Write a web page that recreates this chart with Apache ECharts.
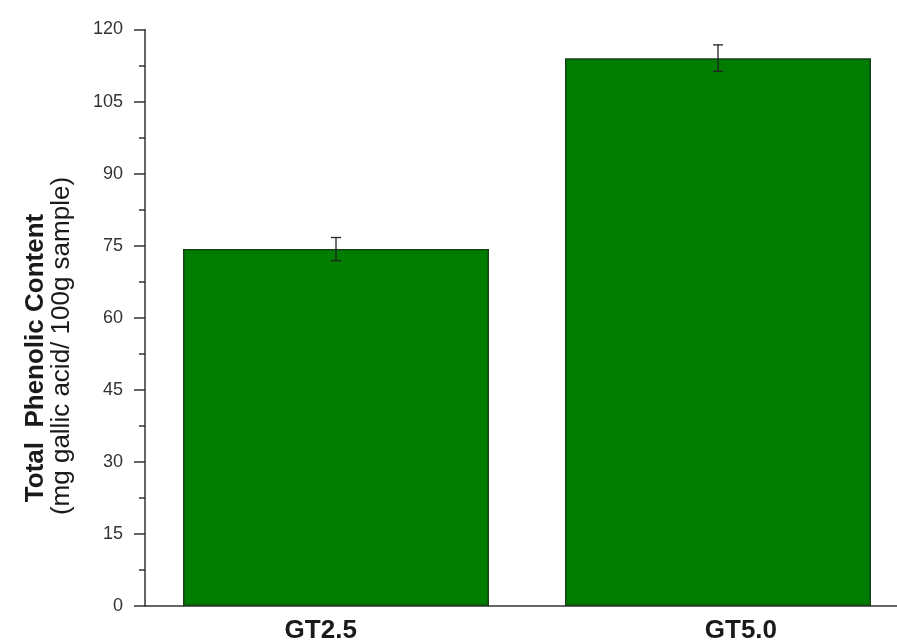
<!DOCTYPE html>
<html>
<head>
<meta charset="utf-8">
<script src="https://cdn.jsdelivr.net/npm/echarts@6/dist/echarts.min.js"></script>
<style>
  html, body { margin: 0; padding: 0; background: #fff; }
  #chart { width: 897px; height: 644px; }
</style>
</head>
<body>
<div id="chart"></div>
<script>
// data
const categories = ['GT2.5', 'GT5.0']
const catIndex = [0, 1]
const labelPos = [-0.04, 1.06]   // where the category labels sit under the bars
const phenolic = [74.3, 114.0]
const errLow = [71.9, 111.3]
const errHigh = [76.7, 116.8]
const yTicks = { min: 0, max: 120, step: 15 }

const chart = echarts.init(document.getElementById('chart'))

const barData = catIndex.map((x, i) => [x, phenolic[i]])
const errData = catIndex.map((x, i) => [x, errLow[i], errHigh[i]])

const option = {
  animation: false,
  grid: {
    left: 145,
    top: 29.5,
    bottom: 34,
    right: 0
  },
  xAxis: {
    type: 'value',
    min: -0.5,
    max: 1.4686,
    splitLine: { show: false },
    axisTick: { show: false },
    axisLine: { onZero: false, lineStyle: { color: '#333', width: 1.5 } },
    axisLabel: {
      customValues: labelPos,
      formatter: (v) => categories[labelPos.indexOf(v)],
      margin: 12,
      color: '#1a1a1a',
      fontFamily: 'Liberation Sans, Arial',
      fontSize: 26,
      fontWeight: 'bold'
    }
  },
  yAxis: {
    type: 'value',
    min: yTicks.min,
    max: yTicks.max,
    interval: yTicks.step,
    splitLine: { show: false },
    axisLine: { show: true, onZero: false, lineStyle: { color: '#333', width: 1.5 } },
    axisTick: { show: true, length: 11, lineStyle: { color: '#333', width: 1.5 } },
    minorTick: { show: true, splitNumber: 2, length: 6, lineStyle: { color: '#333', width: 1.5 } },
    axisLabel: {
      margin: 22,
      color: '#333',
      fontFamily: 'Liberation Sans, Arial',
      fontSize: 18
    }
  },
  graphic: [
    {
      type: 'text',
      x: 36,
      y: 358,
      rotation: Math.PI / 2,
      style: {
        text: 'Total  Phenolic Content',
        fontFamily: 'Liberation Sans, Arial',
        fontSize: 26,
        fontWeight: 'bold',
        fill: '#1a1a1a',
        textAlign: 'center',
        textVerticalAlign: 'middle'
      }
    },
    {
      type: 'text',
      x: 62,
      y: 346,
      rotation: Math.PI / 2,
      style: {
        text: '(mg gallic acid/ 100g sample)',
        fontFamily: 'Liberation Sans, Arial',
        fontSize: 26,
        fill: '#1a1a1a',
        textAlign: 'center',
        textVerticalAlign: 'middle'
      }
    }
  ],
  series: [
    {
      type: 'bar',
      data: barData,
      barWidth: 306,
      itemStyle: {
        color: '#007d00',
        borderColor: '#164216',
        borderWidth: 1.5
      }
    },
    {
      type: 'custom',
      data: errData,
      z: 10,
      renderItem: (params, api) => {
        const lo = api.coord([api.value(0), api.value(1)])
        const hi = api.coord([api.value(0), api.value(2)])
        const half = 5
        const style = { stroke: '#222', lineWidth: 1.3 }
        return {
          type: 'group',
          children: [
            { type: 'line', shape: { x1: hi[0], y1: hi[1], x2: lo[0], y2: lo[1] }, style },
            { type: 'line', shape: { x1: hi[0] - half, y1: hi[1], x2: hi[0] + half, y2: hi[1] }, style },
            { type: 'line', shape: { x1: lo[0] - half, y1: lo[1], x2: lo[0] + half, y2: lo[1] }, style }
          ]
        }
      }
    }
  ]
}

chart.setOption(option)
window.addEventListener('resize', chart.resize)
</script>
</body>
</html>
